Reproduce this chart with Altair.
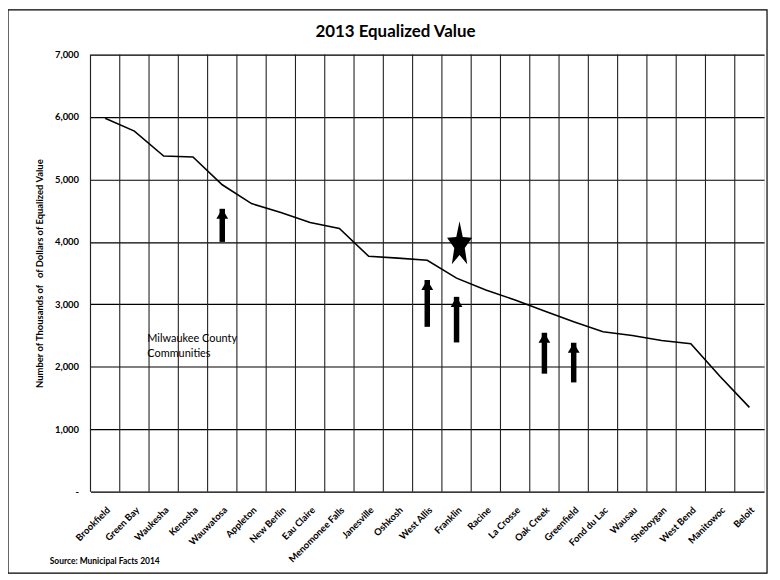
import math
import altair as alt
import pandas as pd

cities = ["Brookfield", "Green Bay", "Waukesha", "Kenosha", "Wauwatosa", "Appleton",
          "New Berlin", "Eau Claire", "Menomonee Falls", "Janesville", "Oshkosh",
          "West Allis", "Franklin", "Racine", "La Crosse", "Oak Creek", "Greenfield",
          "Fond du Lac", "Wausau", "Sheboygan", "West Bend", "Manitowoc", "Beloit"]
values = [5980, 5775, 5375, 5360, 4915, 4613, 4470, 4310, 4215, 3770, 3740,
          3707, 3420, 3230, 3070, 2895, 2720, 2560, 2500, 2420, 2370, 1845, 1350]

arrow_city = ["Wauwatosa", "West Allis", "Franklin", "Oak Creek", "Greenfield"]
arrow_base = [4000, 2640, 2390, 1890, 1750]
arrow_tip = [4530, 3390, 3120, 2545, 2385]

star_city = ["Franklin"]
star_value = [3950]

note_city = ["Green Bay"]
note_value = [2450]
note_text = ["Milwaukee County", "Communities"]

y_ticks = [0, 1000, 2000, 3000, 4000, 5000, 6000, 7000]

title_text = "2013 Equalized Value"
y_title = "Number of Thousands of \u00a0\u00a0of Dollars of Equalized Value"
source_text = "Source: Municipal Facts 2014"

FONT = "Lato"

df = pd.DataFrame({"city": cities, "value": values})
arrows = pd.DataFrame({"city": arrow_city, "base": arrow_base, "tip": arrow_tip})
star = pd.DataFrame({"city": star_city, "value": star_value})
note = pd.DataFrame({"city": note_city, "value": note_value})

# tall five-point star path
pts = []
for i in range(10):
    r = 1.0 if i % 2 == 0 else 0.42
    a = -math.pi / 2 + i * math.pi / 5
    pts.append((0.55 * r * math.cos(a), r * math.sin(a)))
star_path = "M" + " L".join(f"{x:.3f},{y:.3f}" for x, y in pts) + " Z"

xs = alt.Scale(domain=cities, paddingInner=0, paddingOuter=0)
ys = alt.Scale(domain=[0, 7000])

x_axis = alt.Axis(title=None, labelAngle=-45, labelAlign="right", labelBaseline="top",
                  labelPadding=13, ticks=False, domain=False, grid=False,
                  labelFont=FONT, labelFontSize=9.5, labelFontWeight="bold",
                  labelColor="black", labelOverlap=False, labelLimit=200)
y_axis = alt.Axis(title=y_title, values=y_ticks,
                  labelExpr="datum.value == 0 ? '-' : format(datum.value, ',')",
                  ticks=False, domain=False, grid=True, gridColor="black",
                  gridWidth=1.2, labelFont=FONT, labelFontSize=9.5,
                  labelFontWeight="bold", labelColor="black", labelPadding=12,
                  titleFont=FONT, titleFontSize=9.5, titleFontWeight="bold",
                  titleColor="black", titlePadding=10)

base = alt.Chart(df)

vgrid = base.mark_rule(color="#222", strokeWidth=1.1).encode(
    x=alt.X("city:N", scale=xs, sort=cities, bandPosition=0, axis=x_axis)
)

line = base.mark_line(color="black", strokeWidth=1.6).encode(
    x=alt.X("city:N", scale=xs, sort=cities, axis=x_axis),
    y=alt.Y("value:Q", scale=ys, axis=y_axis),
)

shaft = alt.Chart(arrows).mark_rule(color="black", strokeWidth=5.5).encode(
    x=alt.X("city:N", scale=xs, sort=cities),
    y=alt.Y("base:Q", scale=ys),
    y2=alt.Y2("tip:Q"),
)
head = alt.Chart(arrows).mark_point(shape="triangle-up", size=140, filled=True,
                                    color="black", opacity=1, yOffset=5).encode(
    x=alt.X("city:N", scale=xs, sort=cities),
    y=alt.Y("tip:Q", scale=ys),
)

star_mark = alt.Chart(star).mark_point(shape=star_path, size=2300, filled=True,
                                       color="black", opacity=1, xOffset=3).encode(
    x=alt.X("city:N", scale=xs, sort=cities),
    y=alt.Y("value:Q", scale=ys),
)

note_mark = alt.Chart(note).mark_text(text=note_text, align="left", baseline="middle",
                                      font=FONT, fontSize=11, lineHeight=15,
                                      color="black", dx=13).encode(
    x=alt.X("city:N", scale=xs, sort=cities),
    y=alt.Y("value:Q", scale=ys),
)

title_mark = alt.Chart(pd.DataFrame({"t": [title_text]})).mark_text(
    align="center", baseline="middle", font=FONT, fontSize=17, fontWeight="bold",
    color="black").encode(text="t:N", x=alt.value(307), y=alt.value(-23))

source_mark = alt.Chart(pd.DataFrame({"t": [source_text]})).mark_text(
    align="left", baseline="middle", font=FONT, fontSize=8.5, fontWeight="bold",
    color="black").encode(text="t:N", x=alt.value(-41), y=alt.value(510))

frame = alt.Chart(pd.DataFrame({"t": [0]})).mark_rect(
    fill=None, stroke="black", strokeWidth=1.2).encode(
    x=alt.value(-83), x2=alt.value(681), y=alt.value(-45), y2=alt.value(522))

chart = alt.layer(vgrid, line, shaft, head, star_mark, note_mark, title_mark,
                  source_mark, frame).properties(
    width=678, height=440,
    padding={"left": 83, "top": 45, "right": 8, "bottom": 84},
    autosize=alt.AutoSizeParams(type="none"),
).configure_view(stroke="black", strokeWidth=1.5).configure(background="white")

chart.save("out.html", embed_options={"renderer": "svg", "actions": False})
